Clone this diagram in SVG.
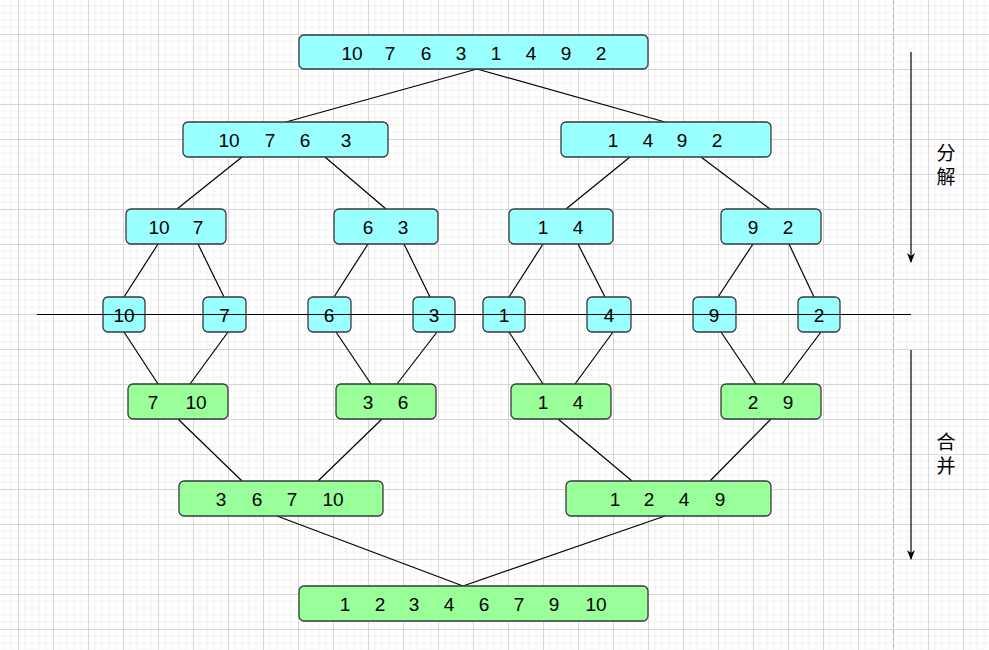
<svg xmlns="http://www.w3.org/2000/svg" width="989" height="650" viewBox="0 0 989 650">
<defs>
<pattern id="grid" x="18" y="34" width="35" height="35" patternUnits="userSpaceOnUse">
<path d="M7 0V35M14 0V35M21 0V35M28 0V35M0 7H35M0 14H35M0 21H35M0 28H35" fill="none" stroke="#f1f1f1" stroke-width="1"/>
<path d="M0.5 0V35M0 0.5H35" fill="none" stroke="#d6d6d6" stroke-width="1"/>
</pattern>
<marker id="ah" viewBox="0 0 10 10" refX="9" refY="5" markerWidth="10" markerHeight="10" markerUnits="userSpaceOnUse" orient="auto">
<path d="M0 1L10 5L0 9L3 5Z" fill="#000"/>
</marker>
<style>
.c{fill:#99ffff;stroke:#36393d;stroke-width:1.3}
.g{fill:#99ff99;stroke:#36393d;stroke-width:1.3}
.t{font-family:"Liberation Sans",Arial,sans-serif;font-size:19px;fill:#000;text-anchor:middle}
.z{font-family:"Noto Sans CJK SC","Noto Sans",sans-serif;font-size:19px;fill:#000;text-anchor:middle;writing-mode:vertical-rl;text-orientation:upright;letter-spacing:5px}
.e{stroke:#000;stroke-width:1.2;fill:none}
</style>
</defs>
<rect width="989" height="650" fill="#fff"/>
<rect width="989" height="650" fill="url(#grid)"/>
<line x1="893.5" y1="0" x2="893.5" y2="650" stroke="#b0b0b0" stroke-width="1" stroke-dasharray="4 3"/>

<g id="connectors">
<line class="e" x1="477" y1="69" x2="286" y2="122"/>
<line class="e" x1="477" y1="69" x2="665" y2="122"/>
<line class="e" x1="242" y1="157" x2="177" y2="209"/>
<line class="e" x1="325" y1="157" x2="386" y2="209"/>
<line class="e" x1="630" y1="157" x2="566" y2="209"/>
<line class="e" x1="701" y1="157" x2="770" y2="209"/>
<line class="e" x1="158" y1="244" x2="124" y2="297"/>
<line class="e" x1="198" y1="244" x2="224" y2="297"/>
<line class="e" x1="368" y1="244" x2="334" y2="297"/>
<line class="e" x1="404" y1="244" x2="430" y2="297"/>
<line class="e" x1="543" y1="244" x2="509" y2="297"/>
<line class="e" x1="578" y1="244" x2="605" y2="297"/>
<line class="e" x1="753" y1="244" x2="718" y2="297"/>
<line class="e" x1="789" y1="244" x2="814" y2="297"/>
<line class="e" x1="124" y1="332" x2="158" y2="384"/>
<line class="e" x1="228" y1="332" x2="190" y2="384"/>
<line class="e" x1="336" y1="332" x2="371" y2="384"/>
<line class="e" x1="437" y1="332" x2="397" y2="384"/>
<line class="e" x1="509" y1="332" x2="543" y2="384"/>
<line class="e" x1="613" y1="332" x2="575" y2="384"/>
<line class="e" x1="721" y1="332" x2="756" y2="384"/>
<line class="e" x1="821" y1="332" x2="782" y2="384"/>
<line class="e" x1="178" y1="419" x2="242" y2="481"/>
<line class="e" x1="382" y1="419" x2="318" y2="481"/>
<line class="e" x1="558" y1="419" x2="632" y2="481"/>
<line class="e" x1="771" y1="419" x2="710" y2="481"/>
<line class="e" x1="277" y1="516" x2="463" y2="586"/>
<line class="e" x1="665" y1="516" x2="463" y2="586"/>
</g>

<g id="n0"><rect class="c" x="299" y="35" width="349" height="34" rx="5"/>
<text class="t" y="59.5"><tspan x="352">10</tspan><tspan x="390">7</tspan><tspan x="426">6</tspan><tspan x="461">3</tspan><tspan x="496">1</tspan><tspan x="531">4</tspan><tspan x="566">9</tspan><tspan x="601">2</tspan></text></g>

<g id="n1a"><rect class="c" x="183" y="122" width="205" height="35" rx="5"/>
<text class="t" y="146.5"><tspan x="229">10</tspan><tspan x="270">7</tspan><tspan x="305">6</tspan><tspan x="346">3</tspan></text></g>
<g id="n1b"><rect class="c" x="561" y="122" width="210" height="35" rx="5"/>
<text class="t" y="146.5"><tspan x="613">1</tspan><tspan x="648">4</tspan><tspan x="682">9</tspan><tspan x="717">2</tspan></text></g>

<g id="n2a"><rect class="c" x="126" y="209" width="100" height="35" rx="5"/>
<text class="t" y="233.5"><tspan x="159">10</tspan><tspan x="198">7</tspan></text></g>
<g id="n2b"><rect class="c" x="334" y="209" width="104" height="35" rx="5"/>
<text class="t" y="233.5"><tspan x="368">6</tspan><tspan x="403">3</tspan></text></g>
<g id="n2c"><rect class="c" x="509" y="209" width="104" height="35" rx="5"/>
<text class="t" y="233.5"><tspan x="543">1</tspan><tspan x="578">4</tspan></text></g>
<g id="n2d"><rect class="c" x="721" y="209" width="100" height="35" rx="5"/>
<text class="t" y="233.5"><tspan x="753">9</tspan><tspan x="788">2</tspan></text></g>

<g id="l10"><rect class="c" x="103" y="297" width="42" height="35" rx="5"/><text class="t" x="124" y="321.5">10</text></g>
<g id="l7"><rect class="c" x="203" y="297" width="43" height="35" rx="5"/><text class="t" x="224.5" y="321.5">7</text></g>
<g id="l6"><rect class="c" x="308" y="297" width="43" height="35" rx="5"/><text class="t" x="329" y="321.5">6</text></g>
<g id="l3"><rect class="c" x="413" y="297" width="42" height="35" rx="5"/><text class="t" x="434" y="321.5">3</text></g>
<g id="l1"><rect class="c" x="483" y="297" width="42" height="35" rx="5"/><text class="t" x="504" y="321.5">1</text></g>
<g id="l4"><rect class="c" x="587" y="297" width="44" height="35" rx="5"/><text class="t" x="609" y="321.5">4</text></g>
<g id="l9"><rect class="c" x="693" y="297" width="43" height="35" rx="5"/><text class="t" x="714" y="321.5">9</text></g>
<g id="l2"><rect class="c" x="798" y="297" width="42" height="35" rx="5"/><text class="t" x="819" y="321.5">2</text></g>

<line id="divider" x1="37" y1="314.5" x2="911" y2="314.5" stroke="#000" stroke-width="1.2"/>

<g id="m1a"><rect class="g" x="128" y="384" width="100" height="35" rx="5"/>
<text class="t" y="408.5"><tspan x="153">7</tspan><tspan x="196">10</tspan></text></g>
<g id="m1b"><rect class="g" x="336" y="384" width="100" height="35" rx="5"/>
<text class="t" y="408.5"><tspan x="368">3</tspan><tspan x="403">6</tspan></text></g>
<g id="m1c"><rect class="g" x="511" y="384" width="100" height="35" rx="5"/>
<text class="t" y="408.5"><tspan x="543">1</tspan><tspan x="578">4</tspan></text></g>
<g id="m1d"><rect class="g" x="721" y="384" width="100" height="35" rx="5"/>
<text class="t" y="408.5"><tspan x="753">2</tspan><tspan x="788">9</tspan></text></g>

<g id="m2a"><rect class="g" x="179" y="481" width="204" height="35" rx="5"/>
<text class="t" y="505.5"><tspan x="221">3</tspan><tspan x="257">6</tspan><tspan x="292">7</tspan><tspan x="333">10</tspan></text></g>
<g id="m2b"><rect class="g" x="566" y="481" width="205" height="35" rx="5"/>
<text class="t" y="505.5"><tspan x="615">1</tspan><tspan x="649">2</tspan><tspan x="684">4</tspan><tspan x="720">9</tspan></text></g>

<g id="m3"><rect class="g" x="299" y="586" width="349" height="35" rx="5"/>
<text class="t" y="610.5"><tspan x="345">1</tspan><tspan x="380">2</tspan><tspan x="414">3</tspan><tspan x="449">4</tspan><tspan x="484">6</tspan><tspan x="519">7</tspan><tspan x="554">9</tspan><tspan x="596">10</tspan></text></g>

<g id="arrow-split"><line x1="911" y1="52" x2="911" y2="262" stroke="#333" stroke-width="1.5" marker-end="url(#ah)"/>
<text class="z" x="946" y="167">分解</text></g>
<g id="arrow-merge"><line x1="911" y1="350" x2="911" y2="559" stroke="#333" stroke-width="1.5" marker-end="url(#ah)"/>
<text class="z" x="946" y="456">合并</text></g>
</svg>
